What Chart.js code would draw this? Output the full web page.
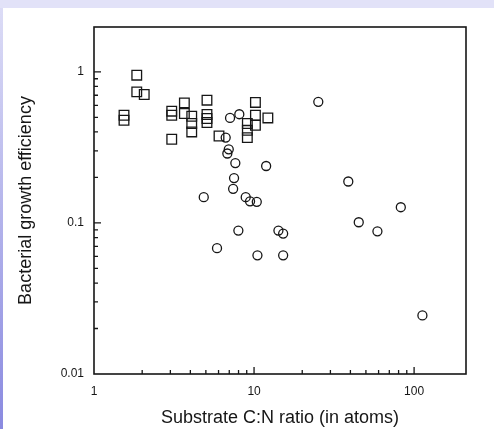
<!DOCTYPE html>
<html>
<head>
<meta charset="utf-8">
<script src="https://cdn.jsdelivr.net/npm/chart.js@4"></script>
<style>
  html, body { margin: 0; padding: 0; }
  body { width: 494px; height: 429px; position: relative; overflow: hidden; background: #e2e2f8; }
  #leftStrip { position: absolute; left: 0; top: 8px; width: 3px; height: 421px;
    background: linear-gradient(#dcdcf6, #8a8ae0); }
  #wrap { position: absolute; left: 3px; top: 8px; width: 491px; height: 421px; background: #fff; }
</style>
</head>
<body>
<div id="leftStrip"></div>
<div id="wrap"><canvas id="bgeChart" width="491" height="421"></canvas></div>
<script>
// squares
const squareX = [1.85, 1.85, 2.06, 1.54, 1.54, 3.06, 3.06, 3.06, 3.67, 3.67, 4.08, 4.08, 4.08,
    5.08, 5.08, 5.08, 5.08, 6.04, 9.08, 9.08, 9.08, 10.2, 10.2, 10.2, 12.2];
const squareY = [0.95, 0.737, 0.708, 0.516, 0.478, 0.549, 0.516, 0.358, 0.623, 0.53, 0.508, 0.455, 0.40,
    0.649, 0.522, 0.491, 0.462, 0.376, 0.455, 0.41, 0.367, 0.627, 0.516, 0.443, 0.495];
// circles
const circleX = [7.08, 8.09, 6.65, 6.95, 6.81, 7.64, 11.9, 7.5, 7.4, 4.85, 8.87, 9.44, 10.4,
    25.2, 38.8, 82.6, 45.1, 59, 7.98, 14.2, 15.2, 5.87, 10.5, 15.2, 112.7];
const circleY = [0.495, 0.524, 0.367, 0.307, 0.288, 0.249, 0.238, 0.198, 0.168, 0.148, 0.148, 0.139, 0.138,
    0.633, 0.188, 0.127, 0.101, 0.088, 0.089, 0.089, 0.085, 0.068, 0.061, 0.061, 0.0244];

const xLabels = [1, 10, 100];
const yLabels = [0.01, 0.1, 1];
const xMinor = [2, 3, 4, 5, 6, 7, 8, 9, 20, 30, 40, 50, 60, 70, 80, 90];
const yMinor = [0.02, 0.03, 0.04, 0.05, 0.06, 0.07, 0.08, 0.09, 0.2, 0.3, 0.4, 0.5, 0.6, 0.7, 0.8, 0.9];

const ink = '#161616';

const toPoints = (xs, ys) => xs.map((x, i) => ({ x: x, y: ys[i] }));

// frame + inside tick marks
const frameTicks = {
    id: 'frameTicks',
    afterDraw(chart) {
        const ctx = chart.ctx;
        const a = chart.chartArea;
        const xs = chart.scales.x, ys = chart.scales.y;
        ctx.save();
        ctx.strokeStyle = ink;
        ctx.lineWidth = 1.6;
        ctx.strokeRect(a.left, a.top, a.right - a.left, a.bottom - a.top);
        ctx.lineWidth = 1.3;
        ctx.beginPath();
        yMinor.forEach(v => {
            const p = ys.getPixelForValue(v);
            ctx.moveTo(a.left, p); ctx.lineTo(a.left + 4, p);
        });
        [0.1, 1].forEach(v => {
            const p = ys.getPixelForValue(v);
            ctx.moveTo(a.left, p); ctx.lineTo(a.left + 7, p);
        });
        xMinor.forEach(v => {
            const p = xs.getPixelForValue(v);
            ctx.moveTo(p, a.bottom); ctx.lineTo(p, a.bottom - 4);
        });
        [10, 100].forEach(v => {
            const p = xs.getPixelForValue(v);
            ctx.moveTo(p, a.bottom); ctx.lineTo(p, a.bottom - 7);
        });
        ctx.stroke();
        ctx.restore();
    }
};

const tickFont = { family: 'Liberation Sans, Arial, sans-serif', size: 12 };
const titleFont = { family: 'Liberation Sans, Arial, sans-serif', size: 18 };

new Chart(document.getElementById('bgeChart'), {
    type: 'scatter',
    data: {
        datasets: [{
            data: toPoints(squareX, squareY),
            pointStyle: 'rect',
            pointRadius: 6.8,
            borderColor: ink,
            borderWidth: 1.3,
            backgroundColor: 'rgba(0,0,0,0)'
        }, {
            data: toPoints(circleX, circleY),
            pointStyle: 'circle',
            pointRadius: 4.5,
            borderColor: ink,
            borderWidth: 1.3,
            backgroundColor: 'rgba(0,0,0,0)'
        }]
    },
    options: {
        responsive: false,
        animation: false,
        layout: { padding: { top: 19, right: 28, left: 0, bottom: 0 } },
        plugins: { legend: { display: false }, tooltip: { enabled: false } },
        scales: {
            x: {
                type: 'logarithmic',
                min: 1,
                max: 211,
                afterBuildTicks: s => { s.ticks = xLabels.map(v => ({ value: v })); },
                afterFit: s => { s.height = 55; },
                grid: { display: false, drawTicks: false },
                border: { display: false },
                ticks: { color: ink, font: tickFont, padding: 10, maxRotation: 0,
                    callback: v => String(v) },
                title: { display: true, text: 'Substrate C:N ratio (in atoms)', color: ink,
                    font: titleFont, padding: { top: 0, bottom: 0 } }
            },
            y: {
                type: 'logarithmic',
                min: 0.01,
                max: 1.98,
                afterBuildTicks: s => { s.ticks = yLabels.map(v => ({ value: v })); },
                afterFit: s => { s.width = 91; },
                grid: { display: false, drawTicks: false },
                border: { display: false },
                ticks: { color: ink, font: tickFont, padding: 10,
                    callback: v => String(v) },
                title: { display: true, text: 'Bacterial growth efficiency', color: ink,
                    font: titleFont, padding: { top: 12, bottom: 0 } }
            }
        }
    },
    plugins: [frameTicks]
});
</script>
</body>
</html>
